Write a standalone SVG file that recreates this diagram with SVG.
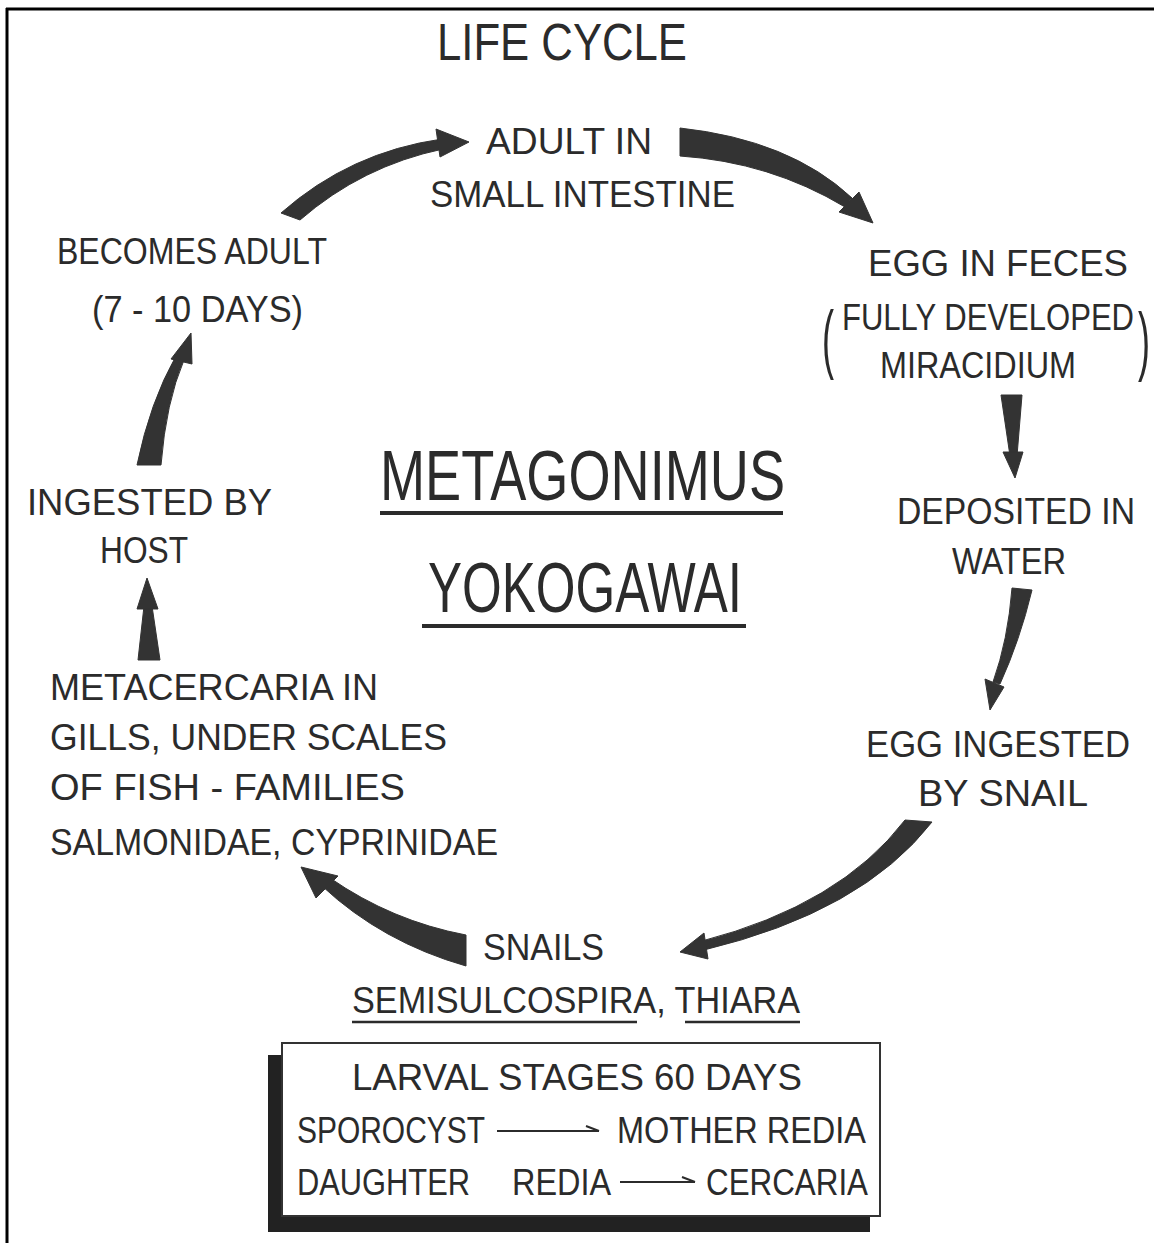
<svg xmlns="http://www.w3.org/2000/svg" width="1154" height="1243" viewBox="0 0 1154 1243">
<style>
text{font-family:"Liberation Sans","DejaVu Sans",sans-serif;fill:#2b2b2b;}
.t{font-size:37px;}
.big{font-size:70px;}
.par{font-size:76px;}
.arr{fill:#333;stroke:#333;stroke-width:1;stroke-linejoin:round;}
.ul{stroke:#2b2b2b;fill:none;}
.thin{stroke:#2b2b2b;stroke-width:2;fill:none;}
</style>
<rect width="1154" height="1243" fill="#fff"/>
<g id="frame">
<line x1="6" y1="9" x2="1154" y2="9" stroke="#000" stroke-width="3"/>
<line x1="7" y1="8" x2="7" y2="1243" stroke="#000" stroke-width="3"/>
</g>
<g id="title"><text x="437" y="60" style="font-size:52px" textLength="250" lengthAdjust="spacingAndGlyphs">LIFE CYCLE</text></g>
<g id="center-title">
<text class="big" x="380" y="500" textLength="405" lengthAdjust="spacingAndGlyphs">METAGONIMUS</text>
<line class="ul" x1="380" y1="513" x2="783" y2="513" stroke-width="4"/>
<text class="big" x="428" y="612" textLength="314" lengthAdjust="spacingAndGlyphs">YOKOGAWAI</text>
<line class="ul" x1="422" y1="626" x2="746" y2="626" stroke-width="4"/>
</g>
<g id="node-adult">
<text class="t" x="486" y="154" textLength="166" lengthAdjust="spacingAndGlyphs">ADULT IN</text>
<text class="t" x="430" y="207" textLength="305" lengthAdjust="spacingAndGlyphs">SMALL INTESTINE</text>
</g>
<g id="node-egg-feces">
<text class="t" x="868" y="276" textLength="260" lengthAdjust="spacingAndGlyphs">EGG IN FECES</text>
<text class="t" x="842" y="330" textLength="292" lengthAdjust="spacingAndGlyphs">FULLY DEVELOPED</text>
<text class="t" x="880" y="378" textLength="196" lengthAdjust="spacingAndGlyphs">MIRACIDIUM</text>
<text class="par" x="822" y="364" textLength="12" lengthAdjust="spacingAndGlyphs">(</text>
<text class="par" x="1138" y="366" textLength="12" lengthAdjust="spacingAndGlyphs">)</text>
</g>
<g id="node-deposited">
<text class="t" x="897" y="524" textLength="238" lengthAdjust="spacingAndGlyphs">DEPOSITED IN</text>
<text class="t" x="952" y="574" textLength="114" lengthAdjust="spacingAndGlyphs">WATER</text>
</g>
<g id="node-egg-ingested">
<text class="t" x="866" y="757" textLength="264" lengthAdjust="spacingAndGlyphs">EGG INGESTED</text>
<text class="t" x="918" y="806" textLength="170" lengthAdjust="spacingAndGlyphs">BY SNAIL</text>
</g>
<g id="node-snails">
<text class="t" x="483" y="960" textLength="121" lengthAdjust="spacingAndGlyphs">SNAILS</text>
<text class="t" x="352" y="1013" textLength="448" lengthAdjust="spacingAndGlyphs">SEMISULCOSPIRA, THIARA</text>
<line class="ul" x1="352" y1="1022" x2="637" y2="1022" stroke-width="2.5"/>
<line class="ul" x1="685" y1="1022" x2="800" y2="1022" stroke-width="2.5"/>
</g>
<g id="node-larval">
<rect x="268" y="1055" width="602" height="177" fill="#222"/>
<rect x="282" y="1043" width="598" height="173" fill="#fff" stroke="#333" stroke-width="2"/>
<text class="t" x="352" y="1090" textLength="450" lengthAdjust="spacingAndGlyphs">LARVAL STAGES 60 DAYS</text>
<text class="t" x="297" y="1143" textLength="188" lengthAdjust="spacingAndGlyphs">SPOROCYST</text>
<text class="t" x="617" y="1143" textLength="249" lengthAdjust="spacingAndGlyphs">MOTHER REDIA</text>
<text class="t" x="297" y="1195" textLength="173" lengthAdjust="spacingAndGlyphs">DAUGHTER</text>
<text class="t" x="512" y="1195" textLength="99" lengthAdjust="spacingAndGlyphs">REDIA</text>
<text class="t" x="706" y="1195" textLength="162" lengthAdjust="spacingAndGlyphs">CERCARIA</text>
<path class="thin" d="M497,1131 H599 M586,1126 L599,1131"/>
<path class="thin" d="M620,1182 H695 M682,1177 L695,1182"/>
</g>
<g id="node-metacercaria">
<text class="t" x="50" y="700" textLength="328" lengthAdjust="spacingAndGlyphs">METACERCARIA IN</text>
<text class="t" x="50" y="750" textLength="397" lengthAdjust="spacingAndGlyphs">GILLS, UNDER SCALES</text>
<text class="t" x="50" y="800" textLength="355" lengthAdjust="spacingAndGlyphs">OF FISH - FAMILIES</text>
<text class="t" x="50" y="855" textLength="448" lengthAdjust="spacingAndGlyphs">SALMONIDAE, CYPRINIDAE</text>
</g>
<g id="node-ingested">
<text class="t" x="27" y="515" textLength="245" lengthAdjust="spacingAndGlyphs">INGESTED BY</text>
<text class="t" x="100" y="563" textLength="88" lengthAdjust="spacingAndGlyphs">HOST</text>
</g>
<g id="node-becomes">
<text class="t" x="57" y="264" textLength="270" lengthAdjust="spacingAndGlyphs">BECOMES ADULT</text>
<text class="t" x="92" y="322" textLength="211" lengthAdjust="spacingAndGlyphs">(7 - 10 DAYS)</text>
</g>
<g id="connectors">
<path class="arr" d="M281,213 Q350,152 442,139 L443,149 Q362,166 300,220 Z"/>
<path class="arr" d="M436,129 L469,142 L440,157 Z"/>
<path class="arr" d="M680,128 Q790,140 852,198 L845,207 Q770,162 680,156 Z"/>
<path class="arr" d="M859,192 L873,223 L839,212 Z"/>
<path class="arr" d="M1001,395 L1022,395 L1017,456 L1010,456 Z"/>
<path class="arr" d="M1003,452 L1023,452 L1015,478 Z"/>
<path class="arr" d="M1012,588 L1032,590 Q1020,640 1000,684 L993,682 Q1008,640 1012,588 Z"/>
<path class="arr" d="M985,679 L1004,687 L990,710 Z"/>
<path class="arr" d="M905,820 L932,822 Q862,912 704,950 L702,941 Q840,905 905,820 Z"/>
<path class="arr" d="M704,933 L680,952 L708,959 Z"/>
<path class="arr" d="M466,935 L466,966 Q382,942 322,886 L330,878 Q392,921 466,935 Z"/>
<path class="arr" d="M301,867 L338,876 L316,898 Z"/>
<path class="arr" d="M138,660 L160,660 L152,606 L144,606 Z"/>
<path class="arr" d="M137,609 L158,609 L147,578 Z"/>
<path class="arr" d="M137,465 L161,465 Q166,402 184,360 L176,356 Q150,402 137,465 Z"/>
<path class="arr" d="M171,359 L191,333 L192,364 Z"/>
</g>
</svg>
